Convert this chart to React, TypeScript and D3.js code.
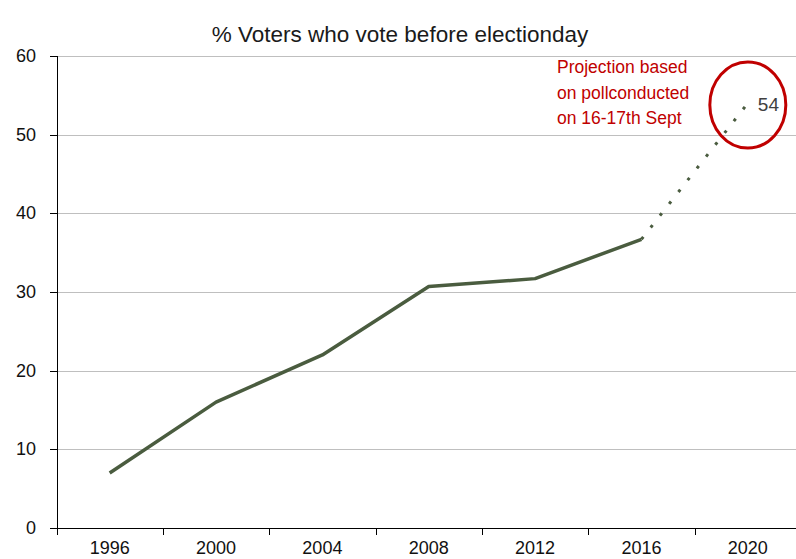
import React from "react";
import * as d3 from "d3";

const years = ["1996", "2000", "2004", "2008", "2012", "2016", "2020"];
const actual = [7, 16, 22, 30.7, 31.7, 36.7];
const projected = [36.7, 54];
const yTicks = [0, 10, 20, 30, 40, 50, 60];
const title = "% Voters who vote before electionday";
const noteLines = ["Projection based", "on pollconducted", "on 16-17th Sept"];
const projLabel = "54";

const W = 796, H = 559;
const left = 57, right = 801, top = 56, bottom = 528;
const font = "'Liberation Sans', Arial, sans-serif";

export default function App() {
  const x = d3.scaleBand<string>().domain(years).range([left - 0.5, right]);
  const y = d3.scaleLinear().domain([0, 60]).range([bottom, top]);
  const cx = (yr: string) => (x(yr) as number) + x.bandwidth() / 2;
  const line = d3.line<[string, number]>().x(d => cx(d[0])).y(d => y(d[1]));
  const actualPts: [string, number][] = actual.map((v, i) => [years[i], v]);
  const projPts: [string, number][] = projected.map((v, i) => [years[5 + i], v]);
  const lastX = cx(years[6]);

  return (
    <svg width={W} height={H} style={{ position: "absolute", left: 0, top: 0 }}>
      <rect width={W} height={H} fill="#fff" />
      <text x={W / 2 + 2} y={42} textAnchor="middle" fontFamily={font} fontSize={22.5} fill="#1a1a1a">{title}</text>
      {yTicks.filter(t => t > 0).map(t => (
        <line key={t} x1={left} x2={W} y1={Math.round(y(t)) + 0.5} y2={Math.round(y(t)) + 0.5} stroke="#bfbfbf" strokeWidth={1} />
      ))}
      {yTicks.map(t => (
        <g key={"yt" + t}>
          <line x1={50} x2={left} y1={Math.round(y(t)) + 0.5} y2={Math.round(y(t)) + 0.5} stroke="#000" />
          <text x={36} y={y(t) + 6} textAnchor="end" fontFamily={font} fontSize={18} fill="#111">{t}</text>
        </g>
      ))}
      <line x1={left + 0.5} x2={left + 0.5} y1={top} y2={bottom + 7} stroke="#000" />
      <line x1={50} x2={W} y1={bottom + 0.5} y2={bottom + 0.5} stroke="#000" />
      {years.map(yr => (
        <g key={yr}>
          <line x1={Math.round(x(yr) as number) + 0.5} x2={Math.round(x(yr) as number) + 0.5} y1={bottom} y2={bottom + 7} stroke="#000" />
          <text x={cx(yr)} y={554} textAnchor="middle" fontFamily={font} fontSize={18} fill="#111">{yr}</text>
        </g>
      ))}
      <path d={line(actualPts) || ""} fill="none" stroke="#4a5c3f" strokeWidth={3.5} strokeLinejoin="round" />
      <path d={line(projPts) || ""} fill="none" stroke="#4a5c3f" strokeWidth={3} strokeDasharray="3 12" />
      <ellipse cx={lastX} cy={105} rx={38} ry={43} fill="none" stroke="#c00000" strokeWidth={3} />
      <text x={lastX + 10} y={111} fontFamily={font} fontSize={19} fill="#404040">{projLabel}</text>
      {noteLines.map((s, i) => (
        <text key={i} x={557} y={73 + i * 25.5} fontFamily={font} fontSize={17.5} fill="#c00000">{s}</text>
      ))}
    </svg>
  );
}
